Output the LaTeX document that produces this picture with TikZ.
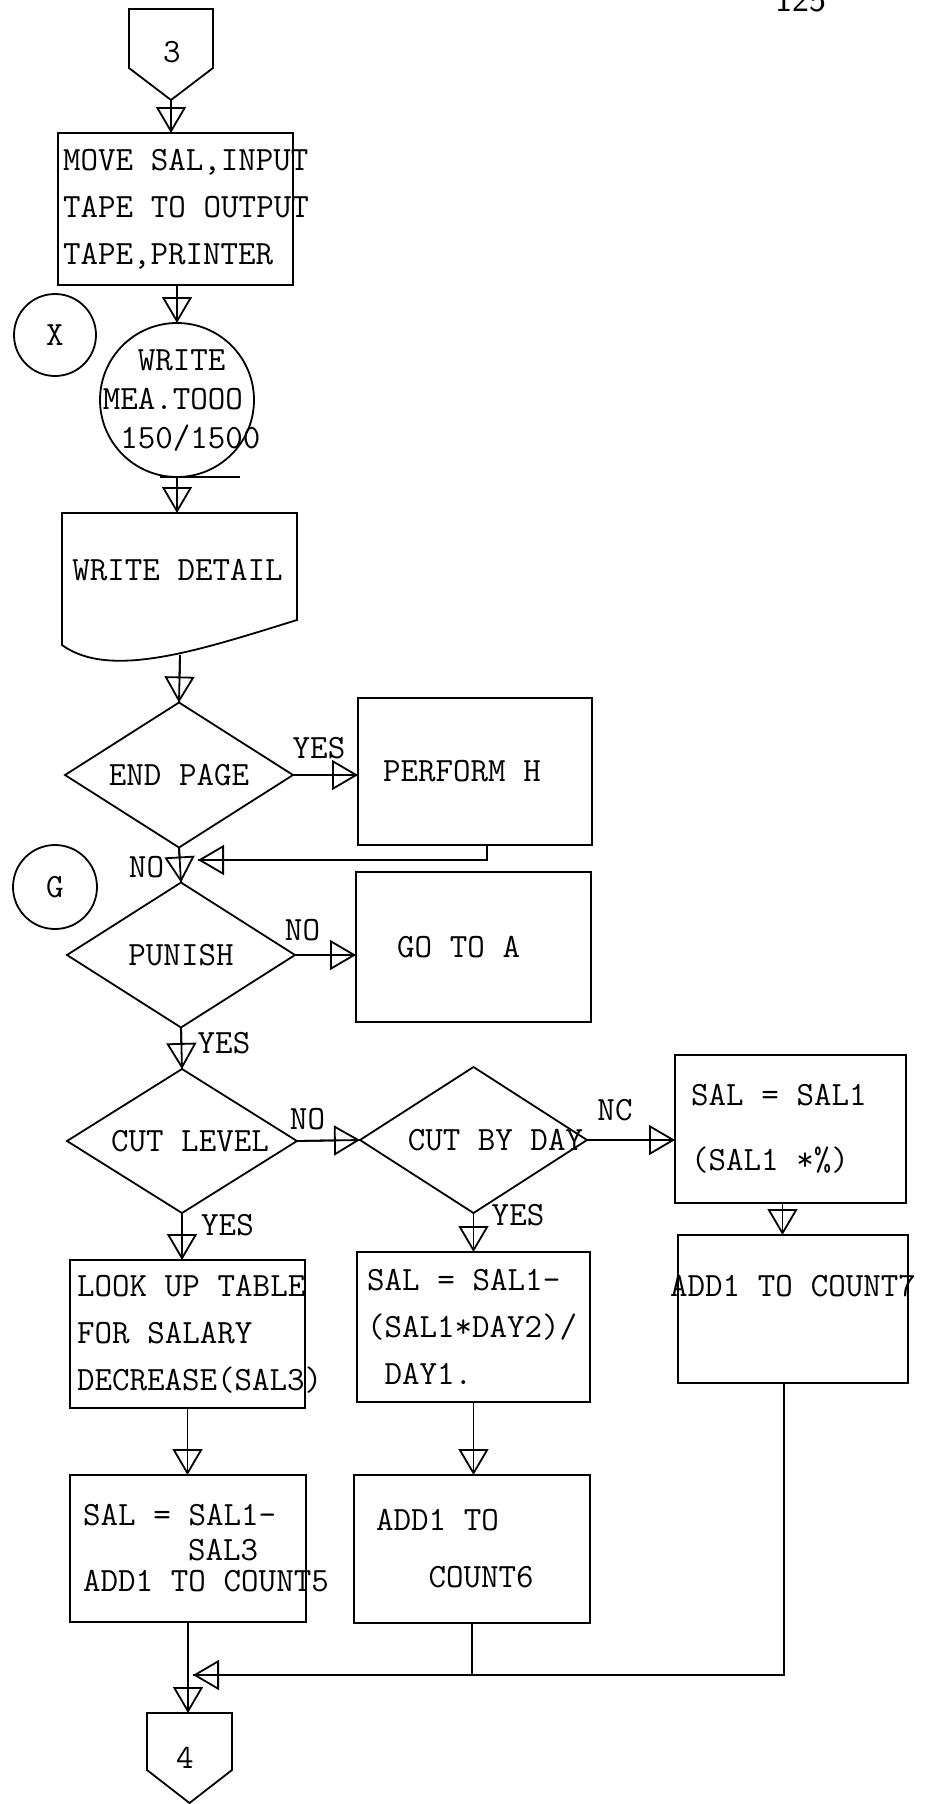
\documentclass[tikz,border=0pt]{standalone}
\usetikzlibrary{shapes.geometric,arrows.meta}
\newcommand{\tsp}{\kern0.525em\relax}
\begin{document}
\begin{tikzpicture}[x=1pt,y=-1pt,line width=1.8pt,
  txt/.style={font={\ttfamily\fontsize{34}{47}\selectfont\hyphenpenalty=10000}, inner sep=0pt},
  proc/.style={txt, draw, rectangle, align=left, inner ysep=0pt, outer sep=0pt},
  dec/.style={txt, draw, diamond, aspect=1.57, inner sep=0pt, outer sep=0pt},
  onp/.style={txt, draw, circle, inner sep=0pt, outer sep=0pt},
  flow/.style={postaction={draw,-{Triangle[open,width=30pt,length=26pt]}}}]
\useasboundingbox (0,0) rectangle (928,1804);
\node[font=\sffamily\fontsize{36}{40}\selectfont] (pg) at (801,0) {125};
\node[txt] (c3) at (172,52) {3};
\draw ([shift={(-43,-43)}]c3.center) -- ++(84,0) -- ++(0,59) -- ++(-42,32) -- ++(-42,-32) -- cycle;
\coordinate (c3b) at ([shift={(-1,48)}]c3.center);
\node[proc, text width=225pt, inner xsep=5pt, minimum height=152pt] (mv) at (175.5,209) {MOVE\tsp SAL,INPUT\\TAPE\tsp TO\tsp OUTPUT\\TAPE,PRINTER};
\node[onp, minimum size=82pt] (cx) at (55,335) {X};
\node[onp, minimum size=154pt] (wr) at (177,400) {};
\node[txt, align=left, anchor=west, font={\ttfamily\fontsize{34}{39}\selectfont}] (wrt) at (102,401) {\phantom{WR}WRITE\\MEA.TOOO\\\phantom{M}150/1500};
\draw (wr.south) ++(-17,0) -- ++(80,0);
\node[txt] (doc) at (177.5,570) {WRITE~DETAIL};
\draw (62,513) -- (297,513) -- (297,620) .. controls (200,650) and (110,680) .. (62,645) -- cycle;
\coordinate (dtop) at (179,513);
\coordinate (dbot) at (180,655);
\node[dec, minimum width=228pt, minimum height=145pt] (ep) at (179,775) {END~PAGE};
\node[proc, text width=184pt, inner xsep=25pt, minimum height=147pt] (ph) at (475,771.5) {PERFORM\tsp H};
\node[onp, minimum size=84pt] (cg) at (55,887) {G};
\node[dec, minimum width=228pt, minimum height=145pt] (pu) at (181,955) {PUNISH};
\node[proc, text width=153pt, inner xsep=41pt, minimum height=150pt] (ga) at (473.5,947) {GO\tsp TO\tsp A};
\node[dec, minimum width=230pt, minimum height=144pt] (cl) at (182,1141) {\makebox[0pt]{\hspace{16pt}CUT~LEVEL}};
\node[dec, minimum width=227pt, minimum height=146pt] (cd) at (473.5,1140) {\makebox[0pt]{\hspace{44pt}CUT~BY~DAY}};
\node[proc, text width=199pt, inner xsep=16pt, minimum height=148pt] (sp) at (790.5,1129) {SAL\tsp=\tsp SAL1\\[18pt](SAL1\tsp*\%)};
\node[proc, align=center, text width=220pt, inner xsep=5pt, minimum height=148pt] (c7) at (793,1309) {\makebox[220pt]{ADD1\tsp TO\tsp COUNT7}\\\mbox{}};
\node[proc, text width=221pt, inner xsep=7pt, minimum height=148pt] (lk) at (187.5,1334) {LOOK\tsp UP\tsp TABLE\\FOR\tsp SALARY\\DECREASE(SAL3)};
\node[proc, text width=213pt, inner xsep=10pt, minimum height=150pt] (bd) at (473.5,1327) {SAL\tsp=\tsp SAL1-\\(SAL1*DAY2)/\\\phantom{D}DAY1.};
\node[proc, text width=210pt, inner xsep=13pt, minimum height=147pt] (s3) at (188,1548.5) {SAL\tsp=\tsp SAL1-\\[-12pt]\phantom{SALxxx}SAL3\\[-16pt]ADD1\tsp TO\tsp COUNT5};
\node[proc, text width=192pt, inner xsep=22pt, minimum height=148pt] (c6) at (472,1549) {ADD1\tsp TO\\[10pt]\phantom{ADD}COUNT6};
\node[txt] (c4) at (185,1758) {4};
\draw ([shift={(-38,-45)}]c4.center) -- ++(85,0) -- ++(0,57) -- ++(-42.5,33) -- ++(-42.5,-33) -- cycle;
\coordinate (c4t) at ([shift={(1,-45)}]c4.center);
\coordinate (jn) at (198,860);
\coordinate (mg) at (193,1675);
\node[txt] (l1) at (319,748) {YES};
\node[txt] (l2) at (146.5,867) {NO};
\node[txt] (l3) at (302.5,930) {NO};
\node[txt] (l4) at (224,1043) {YES};
\node[txt] (l5) at (307.5,1119) {NO};
\node[txt] (l6) at (615,1110) {NC};
\node[txt] (l7) at (227.5,1225) {YES};
\node[txt] (l8) at (518,1215) {YES};
\draw[flow] (c3b) -- (c3b |- mv.north);
\draw[flow] (mv.south -| wr.north) -- (wr.north);
\draw[flow] (wr.south) -- (wr.south |- dtop);
\draw[flow] (dbot) -- (ep.north);
\draw[flow] (ep.east) -- (ep.east -| ph.west);
\draw[flow] ([xshift=12pt]ph.south) |- (jn);
\draw[flow] (ep.south) -- (pu.north);
\draw[flow] (pu.east) -- (pu.east -| ga.west);
\draw[flow] (pu.south) -- (cl.north);
\draw[flow] (cl.east) -- (cd.west);
\draw[flow] (cd.east) -- (cd.east -| sp.west);
\draw[flow] (cl.south) -- (cl.south |- lk.north);
\draw[flow] (cd.south) -- (cd.south |- bd.north);
\draw[flow] ([xshift=-8pt]sp.south) -- ([xshift=-8pt]sp.south |- c7.north);
\draw[flow] (lk.south) -- (lk.south |- s3.north);
\draw[flow] (bd.south) -- (bd.south |- c6.north);
\draw[flow] ([xshift=-9pt]c7.south) |- (mg);
\draw (c6.south) -- (c6.south |- mg);
\draw[flow] (s3.south) -- (s3.south |- c4t);
\end{tikzpicture}
\end{document}
